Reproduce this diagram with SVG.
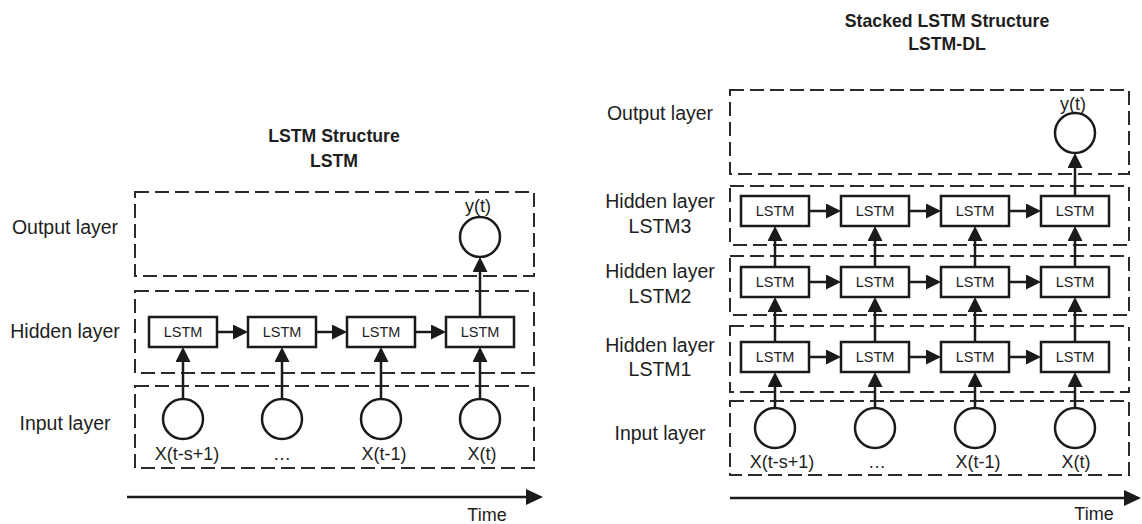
<svg xmlns="http://www.w3.org/2000/svg" width="1142" height="524" viewBox="0 0 1142 524">
<style>
text{font-family:"Liberation Sans",Arial,sans-serif;fill:#1e1e1e}
.title{font-size:17.7px;font-weight:bold;text-anchor:middle}
.lab{font-size:19.5px;text-anchor:middle}
.io{font-size:18px;text-anchor:middle}
.cell{font-size:14.5px;text-anchor:middle}
.layer{fill:none;stroke:#2a2a2a;stroke-width:2;stroke-dasharray:14 6}
.box{fill:#fff;stroke:#1a1a1a;stroke-width:2.5}
.node{fill:#fff;stroke:#1a1a1a;stroke-width:2.5}
.conn line{stroke:#1a1a1a;stroke-width:2.5;marker-end:url(#ah)}
.conn line.time{marker-end:url(#th)}
</style>
<defs>
<marker id="ah" markerUnits="userSpaceOnUse" markerWidth="15" markerHeight="15" viewBox="0 0 15 15" refX="7" refY="7.5" orient="auto"><path d="M0,0 L15,7.5 L0,15 z" fill="#1a1a1a"/></marker>
<marker id="th" markerUnits="userSpaceOnUse" markerWidth="17" markerHeight="16" viewBox="0 0 17 16" refX="9" refY="8" orient="auto"><path d="M0,0 L17,8 L0,16 z" fill="#1a1a1a"/></marker>
</defs>
<rect width="1142" height="524" fill="#fff"/>

<!-- ===== Left diagram ===== -->
<g id="left-titles">
<text class="title" x="334" y="142">LSTM Structure</text>
<text class="title" x="334" y="167">LSTM</text>
</g>
<g id="left-layers">
<rect class="layer" x="135" y="192" width="399" height="84"/>
<rect class="layer" x="135" y="291" width="399" height="82"/>
<rect class="layer" x="135" y="386" width="399" height="82"/>
<text class="lab" x="65" y="234">Output layer</text>
<text class="lab" x="65" y="338">Hidden layer</text>
<text class="lab" x="65" y="430">Input layer</text>
</g>

<g id="left-connectors" class="conn">
<line x1="217" y1="332" x2="240" y2="332"/>
<line x1="316" y1="332" x2="339" y2="332"/>
<line x1="415" y1="332" x2="438" y2="332"/>
<line x1="183" y1="399" x2="183" y2="355"/>
<line x1="282" y1="399" x2="282" y2="355"/>
<line x1="381" y1="399" x2="381" y2="355"/>
<line x1="480" y1="399" x2="480" y2="355"/>
<line x1="480" y1="317" x2="480" y2="265"/>
<line class="time" x1="127" y1="497" x2="535" y2="497"/>
</g>

<g id="L-h1"><rect class="box" x="149" y="317" width="68" height="30"/><text class="cell" x="183" y="337">LSTM</text></g>
<g id="L-h2"><rect class="box" x="248" y="317" width="68" height="30"/><text class="cell" x="282" y="337">LSTM</text></g>
<g id="L-h3"><rect class="box" x="347" y="317" width="68" height="30"/><text class="cell" x="381" y="337">LSTM</text></g>
<g id="L-h4"><rect class="box" x="446" y="317" width="68" height="30"/><text class="cell" x="480" y="337">LSTM</text></g>
<g id="L-x1"><circle class="node" cx="183" cy="419" r="20"/><text class="io" x="187" y="460">X(t-s+1)</text></g>
<g id="L-x2"><circle class="node" cx="282" cy="419" r="20"/><text class="io" x="282" y="460">…</text></g>
<g id="L-x3"><circle class="node" cx="381" cy="419" r="20"/><text class="io" x="384" y="460">X(t-1)</text></g>
<g id="L-x4"><circle class="node" cx="480" cy="419" r="20"/><text class="io" x="482" y="460">X(t)</text></g>
<g id="L-y"><circle class="node" cx="480" cy="237" r="20"/><text class="io" x="478" y="212">y(t)</text></g>
<g id="L-time"><text class="io" x="487" y="521">Time</text></g>

<!-- ===== Right diagram ===== -->
<g id="right-titles">
<text class="title" x="947" y="27">Stacked LSTM Structure</text>
<text class="title" x="947" y="50">LSTM-DL</text>
</g>
<g id="right-layers">
<rect class="layer" x="730" y="90" width="399" height="84"/>
<rect class="layer" x="730" y="186" width="399" height="59"/>
<rect class="layer" x="730" y="256" width="399" height="59"/>
<rect class="layer" x="730" y="326" width="399" height="66"/>
<rect class="layer" x="730" y="401" width="399" height="74"/>
<text class="lab" x="660" y="120">Output layer</text>
<text class="lab" x="660" y="208">Hidden layer</text>
<text class="lab" x="660" y="233">LSTM3</text>
<text class="lab" x="660" y="278">Hidden layer</text>
<text class="lab" x="660" y="303">LSTM2</text>
<text class="lab" x="660" y="352">Hidden layer</text>
<text class="lab" x="660" y="376">LSTM1</text>
<text class="lab" x="660" y="440">Input layer</text>
</g>

<g id="right-connectors" class="conn">
<line x1="809" y1="211" x2="833" y2="211"/>
<line x1="909" y1="211" x2="933" y2="211"/>
<line x1="1009" y1="211" x2="1033" y2="211"/>
<line x1="809" y1="282" x2="833" y2="282"/>
<line x1="909" y1="282" x2="933" y2="282"/>
<line x1="1009" y1="282" x2="1033" y2="282"/>
<line x1="809" y1="357" x2="833" y2="357"/>
<line x1="909" y1="357" x2="933" y2="357"/>
<line x1="1009" y1="357" x2="1033" y2="357"/>
<line x1="775" y1="408" x2="775" y2="380"/>
<line x1="875" y1="408" x2="875" y2="380"/>
<line x1="975" y1="408" x2="975" y2="380"/>
<line x1="1075" y1="408" x2="1075" y2="380"/>
<line x1="775" y1="342" x2="775" y2="305"/>
<line x1="875" y1="342" x2="875" y2="305"/>
<line x1="975" y1="342" x2="975" y2="305"/>
<line x1="1075" y1="342" x2="1075" y2="305"/>
<line x1="775" y1="267" x2="775" y2="234"/>
<line x1="875" y1="267" x2="875" y2="234"/>
<line x1="975" y1="267" x2="975" y2="234"/>
<line x1="1075" y1="267" x2="1075" y2="234"/>
<line x1="1075" y1="196" x2="1075" y2="161"/>
<line class="time" x1="730" y1="498" x2="1133" y2="498"/>
</g>

<g id="R-h3-1"><rect class="box" x="741" y="196" width="68" height="30"/><text class="cell" x="775" y="216">LSTM</text></g>
<g id="R-h3-2"><rect class="box" x="841" y="196" width="68" height="30"/><text class="cell" x="875" y="216">LSTM</text></g>
<g id="R-h3-3"><rect class="box" x="941" y="196" width="68" height="30"/><text class="cell" x="975" y="216">LSTM</text></g>
<g id="R-h3-4"><rect class="box" x="1041" y="196" width="68" height="30"/><text class="cell" x="1075" y="216">LSTM</text></g>
<g id="R-h2-1"><rect class="box" x="741" y="267" width="68" height="30"/><text class="cell" x="775" y="287">LSTM</text></g>
<g id="R-h2-2"><rect class="box" x="841" y="267" width="68" height="30"/><text class="cell" x="875" y="287">LSTM</text></g>
<g id="R-h2-3"><rect class="box" x="941" y="267" width="68" height="30"/><text class="cell" x="975" y="287">LSTM</text></g>
<g id="R-h2-4"><rect class="box" x="1041" y="267" width="68" height="30"/><text class="cell" x="1075" y="287">LSTM</text></g>
<g id="R-h1-1"><rect class="box" x="741" y="342" width="68" height="30"/><text class="cell" x="775" y="362">LSTM</text></g>
<g id="R-h1-2"><rect class="box" x="841" y="342" width="68" height="30"/><text class="cell" x="875" y="362">LSTM</text></g>
<g id="R-h1-3"><rect class="box" x="941" y="342" width="68" height="30"/><text class="cell" x="975" y="362">LSTM</text></g>
<g id="R-h1-4"><rect class="box" x="1041" y="342" width="68" height="30"/><text class="cell" x="1075" y="362">LSTM</text></g>
<g id="R-x1"><circle class="node" cx="775" cy="428" r="20"/><text class="io" x="782" y="468">X(t-s+1)</text></g>
<g id="R-x2"><circle class="node" cx="875" cy="428" r="20"/><text class="io" x="877" y="468">…</text></g>
<g id="R-x3"><circle class="node" cx="975" cy="428" r="20"/><text class="io" x="978" y="468">X(t-1)</text></g>
<g id="R-x4"><circle class="node" cx="1075" cy="428" r="20"/><text class="io" x="1076" y="468">X(t)</text></g>
<g id="R-y"><circle class="node" cx="1075" cy="133" r="20"/><text class="io" x="1073" y="110">y(t)</text></g>
<g id="R-time"><text class="io" x="1094" y="520">Time</text></g>
</svg>
